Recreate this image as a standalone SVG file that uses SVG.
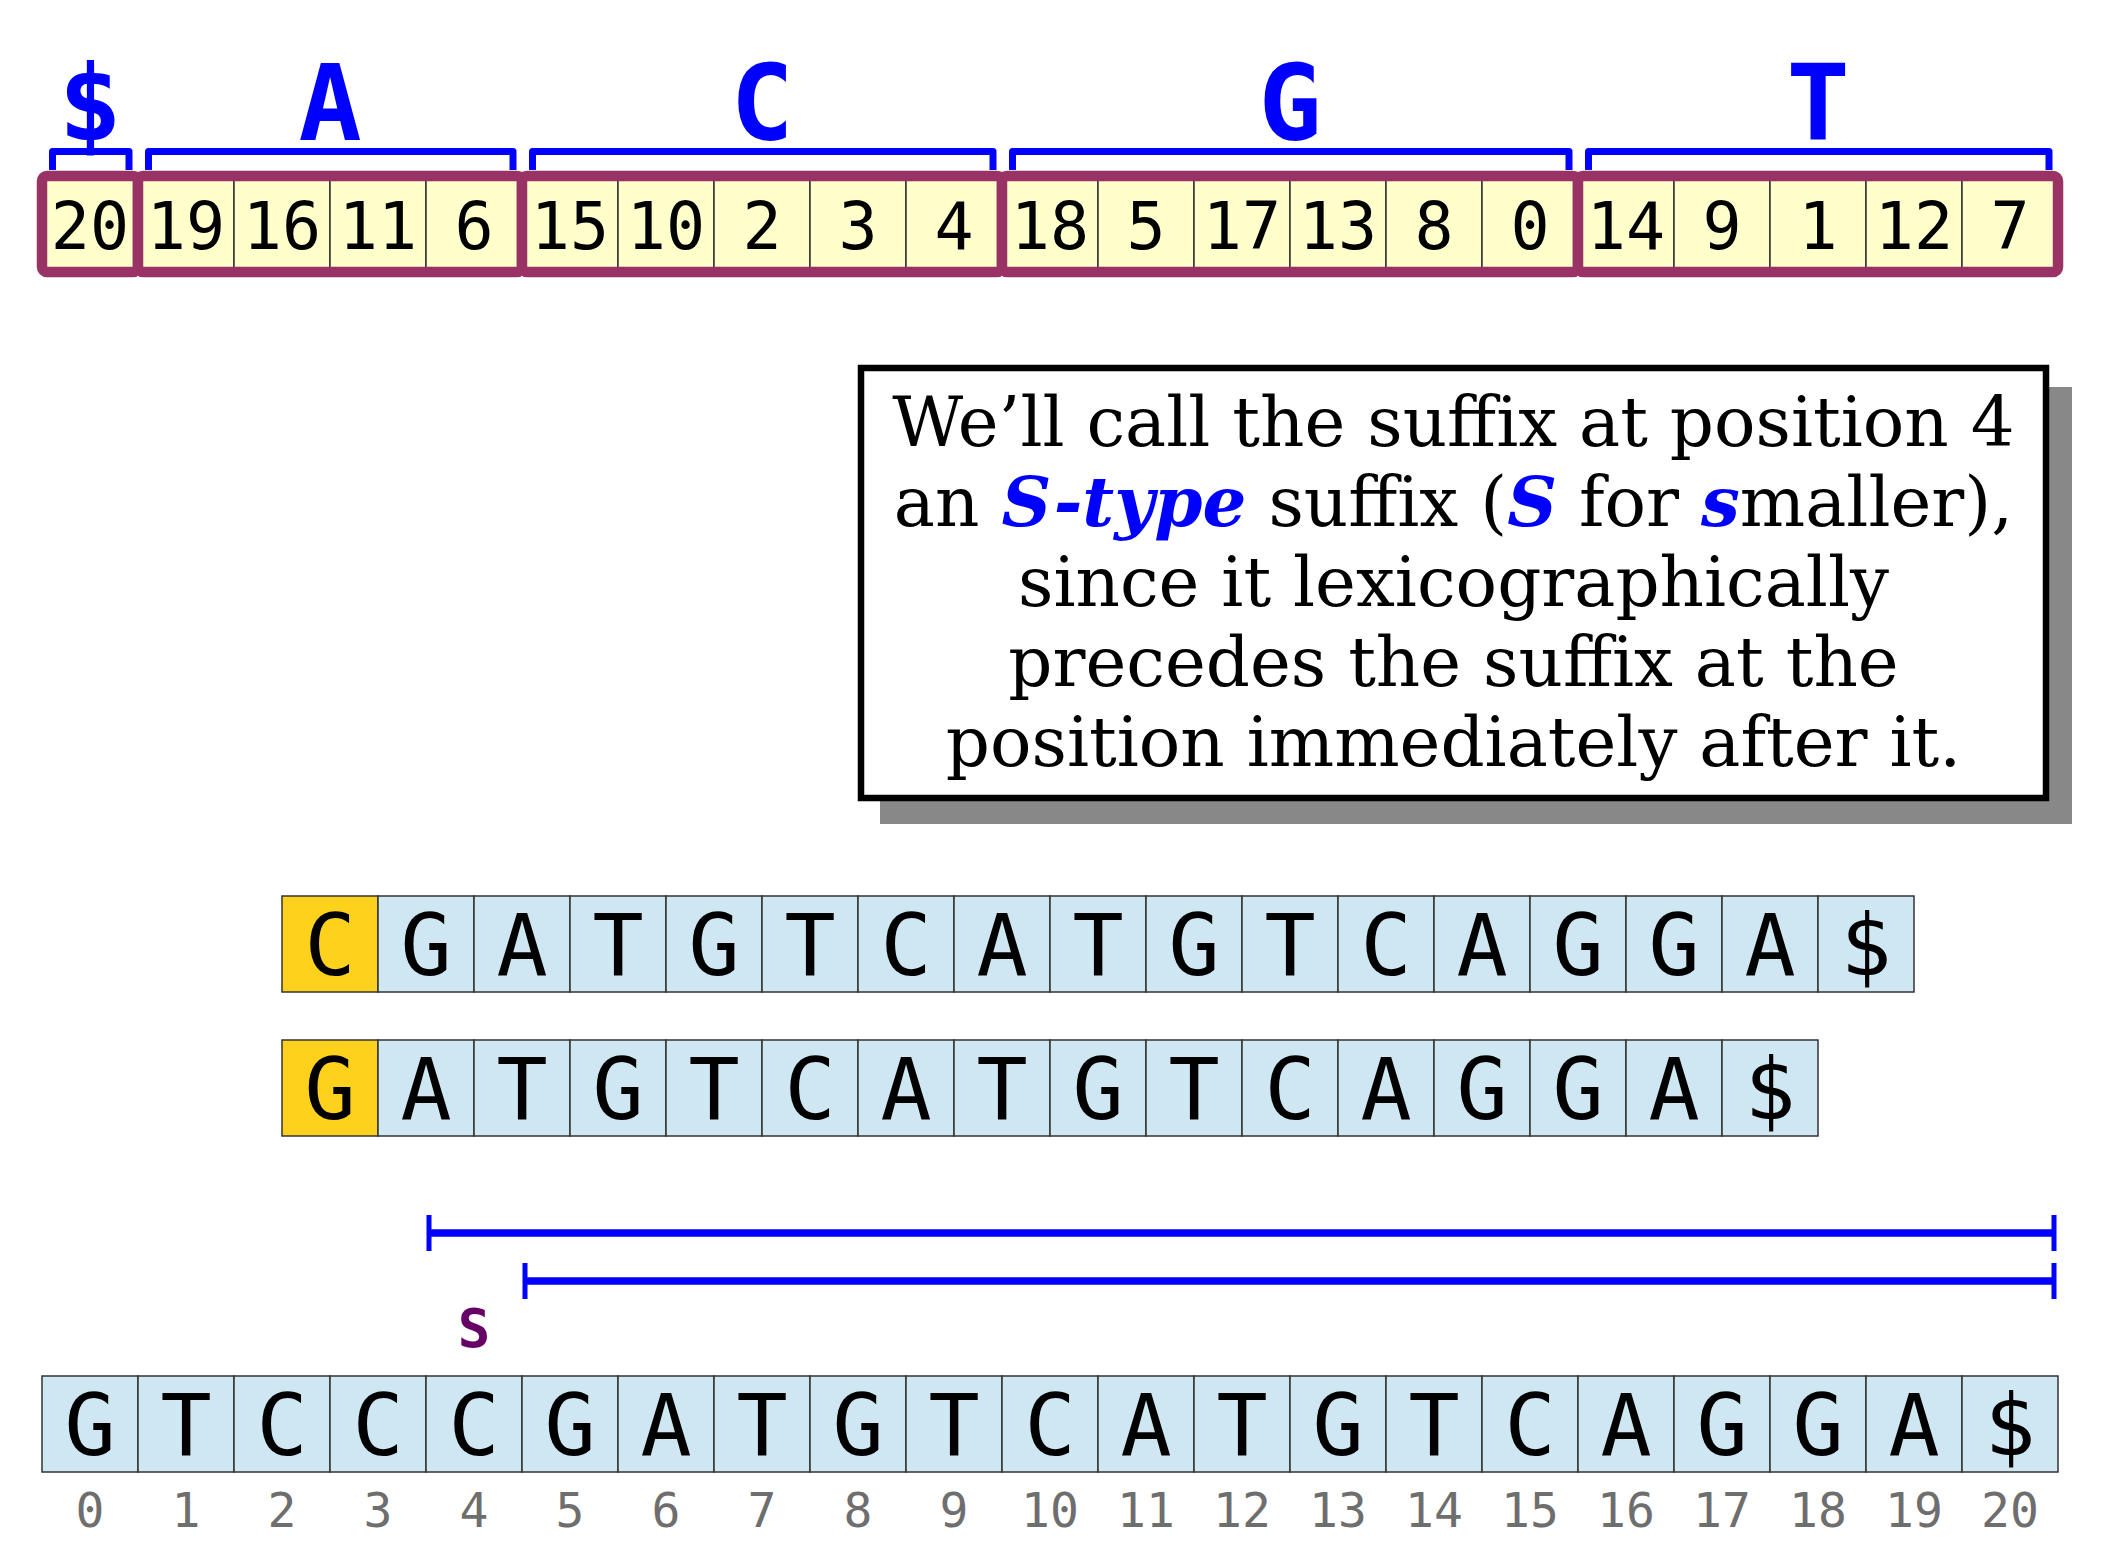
<svg xmlns="http://www.w3.org/2000/svg" width="2110" height="1548" viewBox="0 0 2110 1548">
<defs>
<style>
.sa{fill:#ffffcc;stroke:#333;stroke-width:1.5}
.grp{fill:none;stroke:#993366;stroke-width:10.5}
.br{fill:none;stroke:#0000ff;stroke-width:7;stroke-linejoin:round}
.hd{font-family:"DejaVu Sans Mono",monospace;font-weight:bold;font-size:105px;fill:#0000ff;text-anchor:middle}
.num{font-family:"DejaVu Sans Mono",monospace;font-size:65px;fill:#000;text-anchor:middle}
.c{fill:#cfe6f3;stroke:#333;stroke-width:1.5}
.hl{fill:#fdd11c;stroke:#333;stroke-width:1.5}
.ch{font-family:"DejaVu Sans Mono",monospace;font-size:85px;fill:#000;text-anchor:middle}
.idx{font-family:"DejaVu Sans Mono",monospace;font-size:48px;fill:#6e6e6e;text-anchor:middle}
.note{font-family:"DejaVu Serif",serif;font-size:69px;fill:#000;text-anchor:middle}
.em{font-weight:bold;font-style:italic;fill:#0000ff}
.iv{stroke:#0000ff;stroke-width:7.5;fill:none}
.tk{stroke:#0000ff;stroke-width:5;fill:none}
</style>
</defs>
<rect width="2110" height="1548" fill="#fff"/>

<g id="suffix-array">
<g id="bucket-dollar">
<rect class="sa" x="42" y="176" width="96" height="96"/>
<text class="num" x="90" y="249">20</text>
<rect class="grp" x="42" y="176" width="96" height="96" rx="5"/>
<path class="br" d="M52.5,170 V151.5 H129 V170"/>
<text class="hd" x="90" y="140">$</text>
</g>
<g id="bucket-A">
<rect class="sa" x="138" y="176" width="96" height="96"/>
<rect class="sa" x="234" y="176" width="96" height="96"/>
<rect class="sa" x="330" y="176" width="96" height="96"/>
<rect class="sa" x="426" y="176" width="96" height="96"/>
<text class="num" x="186" y="249">19</text>
<text class="num" x="282" y="249">16</text>
<text class="num" x="378" y="249">11</text>
<text class="num" x="474" y="249">6</text>
<rect class="grp" x="138" y="176" width="384" height="96" rx="5"/>
<path class="br" d="M148.5,170 V151.5 H513 V170"/>
<text class="hd" x="330" y="140">A</text>
</g>
<g id="bucket-C">
<rect class="sa" x="522" y="176" width="96" height="96"/>
<rect class="sa" x="618" y="176" width="96" height="96"/>
<rect class="sa" x="714" y="176" width="96" height="96"/>
<rect class="sa" x="810" y="176" width="96" height="96"/>
<rect class="sa" x="906" y="176" width="96" height="96"/>
<text class="num" x="570" y="249">15</text>
<text class="num" x="666" y="249">10</text>
<text class="num" x="762" y="249">2</text>
<text class="num" x="858" y="249">3</text>
<text class="num" x="954" y="249">4</text>
<rect class="grp" x="522" y="176" width="480" height="96" rx="5"/>
<path class="br" d="M532.5,170 V151.5 H993 V170"/>
<text class="hd" x="762" y="140">C</text>
</g>
<g id="bucket-G">
<rect class="sa" x="1002" y="176" width="96" height="96"/>
<rect class="sa" x="1098" y="176" width="96" height="96"/>
<rect class="sa" x="1194" y="176" width="96" height="96"/>
<rect class="sa" x="1290" y="176" width="96" height="96"/>
<rect class="sa" x="1386" y="176" width="96" height="96"/>
<rect class="sa" x="1482" y="176" width="96" height="96"/>
<text class="num" x="1050" y="249">18</text>
<text class="num" x="1146" y="249">5</text>
<text class="num" x="1242" y="249">17</text>
<text class="num" x="1338" y="249">13</text>
<text class="num" x="1434" y="249">8</text>
<text class="num" x="1530" y="249">0</text>
<rect class="grp" x="1002" y="176" width="576" height="96" rx="5"/>
<path class="br" d="M1012.5,170 V151.5 H1569 V170"/>
<text class="hd" x="1290" y="140">G</text>
</g>
<g id="bucket-T">
<rect class="sa" x="1578" y="176" width="96" height="96"/>
<rect class="sa" x="1674" y="176" width="96" height="96"/>
<rect class="sa" x="1770" y="176" width="96" height="96"/>
<rect class="sa" x="1866" y="176" width="96" height="96"/>
<rect class="sa" x="1962" y="176" width="96" height="96"/>
<text class="num" x="1626" y="249">14</text>
<text class="num" x="1722" y="249">9</text>
<text class="num" x="1818" y="249">1</text>
<text class="num" x="1914" y="249">12</text>
<text class="num" x="2010" y="249">7</text>
<rect class="grp" x="1578" y="176" width="480" height="96" rx="5"/>
<path class="br" d="M1588.5,170 V151.5 H2049 V170"/>
<text class="hd" x="1818" y="140">T</text>
</g>
</g>

<g id="callout">
<rect x="880" y="387" width="1192" height="437" fill="#888888"/>
<rect x="861" y="368" width="1185" height="430" fill="#ffffff" stroke="#000" stroke-width="6.5"/>
<text class="note" x="1453.5" y="446">We’ll call the suffix at position 4</text>
<text class="note" x="1453.5" y="526">an <tspan class="em">S-type</tspan> suffix (<tspan class="em">S</tspan> for <tspan class="em">s</tspan>maller),</text>
<text class="note" x="1453.5" y="606">since it lexicographically</text>
<text class="note" x="1453.5" y="686">precedes the suffix at the</text>
<text class="note" x="1453.5" y="766">position immediately after it.</text>
</g>

<g id="suffix-4">
<rect class="hl" x="282" y="896" width="96" height="96"/>
<rect class="c" x="378" y="896" width="96" height="96"/>
<rect class="c" x="474" y="896" width="96" height="96"/>
<rect class="c" x="570" y="896" width="96" height="96"/>
<rect class="c" x="666" y="896" width="96" height="96"/>
<rect class="c" x="762" y="896" width="96" height="96"/>
<rect class="c" x="858" y="896" width="96" height="96"/>
<rect class="c" x="954" y="896" width="96" height="96"/>
<rect class="c" x="1050" y="896" width="96" height="96"/>
<rect class="c" x="1146" y="896" width="96" height="96"/>
<rect class="c" x="1242" y="896" width="96" height="96"/>
<rect class="c" x="1338" y="896" width="96" height="96"/>
<rect class="c" x="1434" y="896" width="96" height="96"/>
<rect class="c" x="1530" y="896" width="96" height="96"/>
<rect class="c" x="1626" y="896" width="96" height="96"/>
<rect class="c" x="1722" y="896" width="96" height="96"/>
<rect class="c" x="1818" y="896" width="96" height="96"/>
<text class="ch" x="330" y="975">C</text>
<text class="ch" x="426" y="975">G</text>
<text class="ch" x="522" y="975">A</text>
<text class="ch" x="618" y="975">T</text>
<text class="ch" x="714" y="975">G</text>
<text class="ch" x="810" y="975">T</text>
<text class="ch" x="906" y="975">C</text>
<text class="ch" x="1002" y="975">A</text>
<text class="ch" x="1098" y="975">T</text>
<text class="ch" x="1194" y="975">G</text>
<text class="ch" x="1290" y="975">T</text>
<text class="ch" x="1386" y="975">C</text>
<text class="ch" x="1482" y="975">A</text>
<text class="ch" x="1578" y="975">G</text>
<text class="ch" x="1674" y="975">G</text>
<text class="ch" x="1770" y="975">A</text>
<text class="ch" x="1866" y="975">$</text>
</g>

<g id="suffix-5">
<rect class="hl" x="282" y="1040" width="96" height="96"/>
<rect class="c" x="378" y="1040" width="96" height="96"/>
<rect class="c" x="474" y="1040" width="96" height="96"/>
<rect class="c" x="570" y="1040" width="96" height="96"/>
<rect class="c" x="666" y="1040" width="96" height="96"/>
<rect class="c" x="762" y="1040" width="96" height="96"/>
<rect class="c" x="858" y="1040" width="96" height="96"/>
<rect class="c" x="954" y="1040" width="96" height="96"/>
<rect class="c" x="1050" y="1040" width="96" height="96"/>
<rect class="c" x="1146" y="1040" width="96" height="96"/>
<rect class="c" x="1242" y="1040" width="96" height="96"/>
<rect class="c" x="1338" y="1040" width="96" height="96"/>
<rect class="c" x="1434" y="1040" width="96" height="96"/>
<rect class="c" x="1530" y="1040" width="96" height="96"/>
<rect class="c" x="1626" y="1040" width="96" height="96"/>
<rect class="c" x="1722" y="1040" width="96" height="96"/>
<text class="ch" x="330" y="1119">G</text>
<text class="ch" x="426" y="1119">A</text>
<text class="ch" x="522" y="1119">T</text>
<text class="ch" x="618" y="1119">G</text>
<text class="ch" x="714" y="1119">T</text>
<text class="ch" x="810" y="1119">C</text>
<text class="ch" x="906" y="1119">A</text>
<text class="ch" x="1002" y="1119">T</text>
<text class="ch" x="1098" y="1119">G</text>
<text class="ch" x="1194" y="1119">T</text>
<text class="ch" x="1290" y="1119">C</text>
<text class="ch" x="1386" y="1119">A</text>
<text class="ch" x="1482" y="1119">G</text>
<text class="ch" x="1578" y="1119">G</text>
<text class="ch" x="1674" y="1119">A</text>
<text class="ch" x="1770" y="1119">$</text>
</g>

<g id="connectors">
<line class="iv" x1="429" y1="1233" x2="2054" y2="1233"/>
<line class="tk" x1="429" y1="1215" x2="429" y2="1251"/>
<line class="tk" x1="2054" y1="1215" x2="2054" y2="1251"/>
<line class="iv" x1="525" y1="1281" x2="2054" y2="1281"/>
<line class="tk" x1="525" y1="1263" x2="525" y2="1299"/>
<line class="tk" x1="2054" y1="1263" x2="2054" y2="1299"/>
</g>

<g id="s-label">
<text x="474" y="1347" font-family="DejaVu Sans Mono, monospace" font-weight="bold" font-size="54" fill="#660066" text-anchor="middle">S</text>
</g>

<g id="text-string">
<rect class="c" x="42" y="1376" width="96" height="96"/>
<rect class="c" x="138" y="1376" width="96" height="96"/>
<rect class="c" x="234" y="1376" width="96" height="96"/>
<rect class="c" x="330" y="1376" width="96" height="96"/>
<rect class="c" x="426" y="1376" width="96" height="96"/>
<rect class="c" x="522" y="1376" width="96" height="96"/>
<rect class="c" x="618" y="1376" width="96" height="96"/>
<rect class="c" x="714" y="1376" width="96" height="96"/>
<rect class="c" x="810" y="1376" width="96" height="96"/>
<rect class="c" x="906" y="1376" width="96" height="96"/>
<rect class="c" x="1002" y="1376" width="96" height="96"/>
<rect class="c" x="1098" y="1376" width="96" height="96"/>
<rect class="c" x="1194" y="1376" width="96" height="96"/>
<rect class="c" x="1290" y="1376" width="96" height="96"/>
<rect class="c" x="1386" y="1376" width="96" height="96"/>
<rect class="c" x="1482" y="1376" width="96" height="96"/>
<rect class="c" x="1578" y="1376" width="96" height="96"/>
<rect class="c" x="1674" y="1376" width="96" height="96"/>
<rect class="c" x="1770" y="1376" width="96" height="96"/>
<rect class="c" x="1866" y="1376" width="96" height="96"/>
<rect class="c" x="1962" y="1376" width="96" height="96"/>
<text class="ch" x="90" y="1455">G</text>
<text class="ch" x="186" y="1455">T</text>
<text class="ch" x="282" y="1455">C</text>
<text class="ch" x="378" y="1455">C</text>
<text class="ch" x="474" y="1455">C</text>
<text class="ch" x="570" y="1455">G</text>
<text class="ch" x="666" y="1455">A</text>
<text class="ch" x="762" y="1455">T</text>
<text class="ch" x="858" y="1455">G</text>
<text class="ch" x="954" y="1455">T</text>
<text class="ch" x="1050" y="1455">C</text>
<text class="ch" x="1146" y="1455">A</text>
<text class="ch" x="1242" y="1455">T</text>
<text class="ch" x="1338" y="1455">G</text>
<text class="ch" x="1434" y="1455">T</text>
<text class="ch" x="1530" y="1455">C</text>
<text class="ch" x="1626" y="1455">A</text>
<text class="ch" x="1722" y="1455">G</text>
<text class="ch" x="1818" y="1455">G</text>
<text class="ch" x="1914" y="1455">A</text>
<text class="ch" x="2010" y="1455">$</text>
<text class="idx" x="90" y="1527">0</text>
<text class="idx" x="186" y="1527">1</text>
<text class="idx" x="282" y="1527">2</text>
<text class="idx" x="378" y="1527">3</text>
<text class="idx" x="474" y="1527">4</text>
<text class="idx" x="570" y="1527">5</text>
<text class="idx" x="666" y="1527">6</text>
<text class="idx" x="762" y="1527">7</text>
<text class="idx" x="858" y="1527">8</text>
<text class="idx" x="954" y="1527">9</text>
<text class="idx" x="1050" y="1527">10</text>
<text class="idx" x="1146" y="1527">11</text>
<text class="idx" x="1242" y="1527">12</text>
<text class="idx" x="1338" y="1527">13</text>
<text class="idx" x="1434" y="1527">14</text>
<text class="idx" x="1530" y="1527">15</text>
<text class="idx" x="1626" y="1527">16</text>
<text class="idx" x="1722" y="1527">17</text>
<text class="idx" x="1818" y="1527">18</text>
<text class="idx" x="1914" y="1527">19</text>
<text class="idx" x="2010" y="1527">20</text>
</g>
</svg>
